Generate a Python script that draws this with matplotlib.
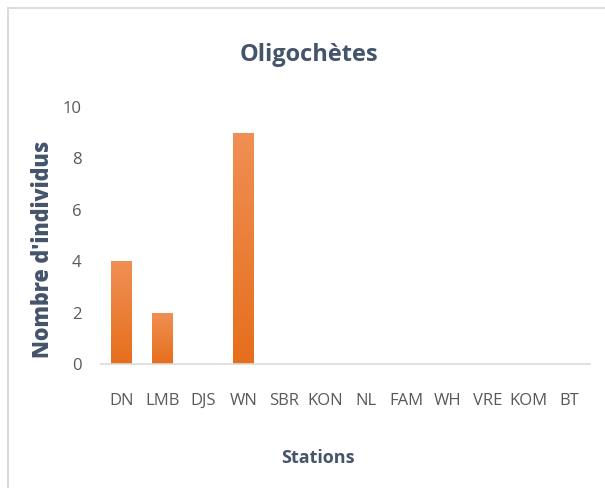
import numpy as np
import matplotlib.pyplot as plt
from matplotlib.colors import LinearSegmentedColormap

stations = ['DN', 'LMB', 'DJS', 'WN', 'SBR', 'KON', 'NL', 'FAM', 'WH', 'VRE', 'KOM', 'BT']
counts = [4, 2, 0, 9, 0, 0, 0, 0, 0, 0, 0, 0]
yticks = [0, 2, 4, 6, 8, 10]

fig = plt.figure(figsize=(6.05, 4.88), dpi=100)
ax = fig.add_axes([0.167, 0.254, 0.808, 0.527])

# orange gradient, lighter at the top
cmap = LinearSegmentedColormap.from_list('org', ['#E66E1C', '#F08F54'])
grad = np.linspace(0, 1, 256).reshape(-1, 1)

bars = ax.bar(range(len(stations)), counts, width=0.5, color='#ED7D31')
for b in bars:
    h = b.get_height()
    if h <= 0:
        continue
    x0 = b.get_x()
    w = b.get_width()
    b.set_facecolor('none')
    b.set_edgecolor('none')
    im = ax.imshow(grad, cmap=cmap, origin='lower', aspect='auto',
                   extent=[x0, x0 + w, 0, h], zorder=2)
    im.set_clip_path(b)

ax.set_xlim(-0.5, len(stations) - 0.5)
ax.set_ylim(0, 10)
ax.set_yticks(yticks)
ax.set_xticks(range(len(stations)))
ax.set_xticklabels(stations)

for s in ['top', 'right', 'left']:
    ax.spines[s].set_visible(False)
ax.spines['bottom'].set_color('#D9D9D9')
ax.spines['bottom'].set_linewidth(1.2)
ax.tick_params(axis='both', length=0, labelsize=12, labelcolor='#595959')
ax.tick_params(axis='y', pad=14)
ax.tick_params(axis='x', pad=21)
for lbl in ax.get_xticklabels() + ax.get_yticklabels():
    lbl.set_family('Open Sans')

fig.text(0.51, 0.887, 'Oligochètes', ha='center', va='center',
         fontsize=17, family='Open Sans', fontweight='bold', color='#44546A')
fig.text(0.071, 0.49, "Nombre d'individus", rotation=90, ha='center', va='center',
         fontsize=15.5, family='Open Sans', fontweight='heavy', color='#44546A')
fig.text(0.525, 0.061, 'Stations', ha='center', va='center',
         fontsize=13, family='Open Sans', fontweight='bold', color='#44546A')

# chart frame (left and top edges visible)
fig.add_artist(plt.Line2D([0.014, 0.014], [0, 0.984], transform=fig.transFigure,
                          color='#D9DDE3', lw=1.5))
fig.add_artist(plt.Line2D([0.014, 1.0], [0.984, 0.984], transform=fig.transFigure,
                          color='#D9DDE3', lw=1.5))

fig.savefig('out.png', dpi=100)
